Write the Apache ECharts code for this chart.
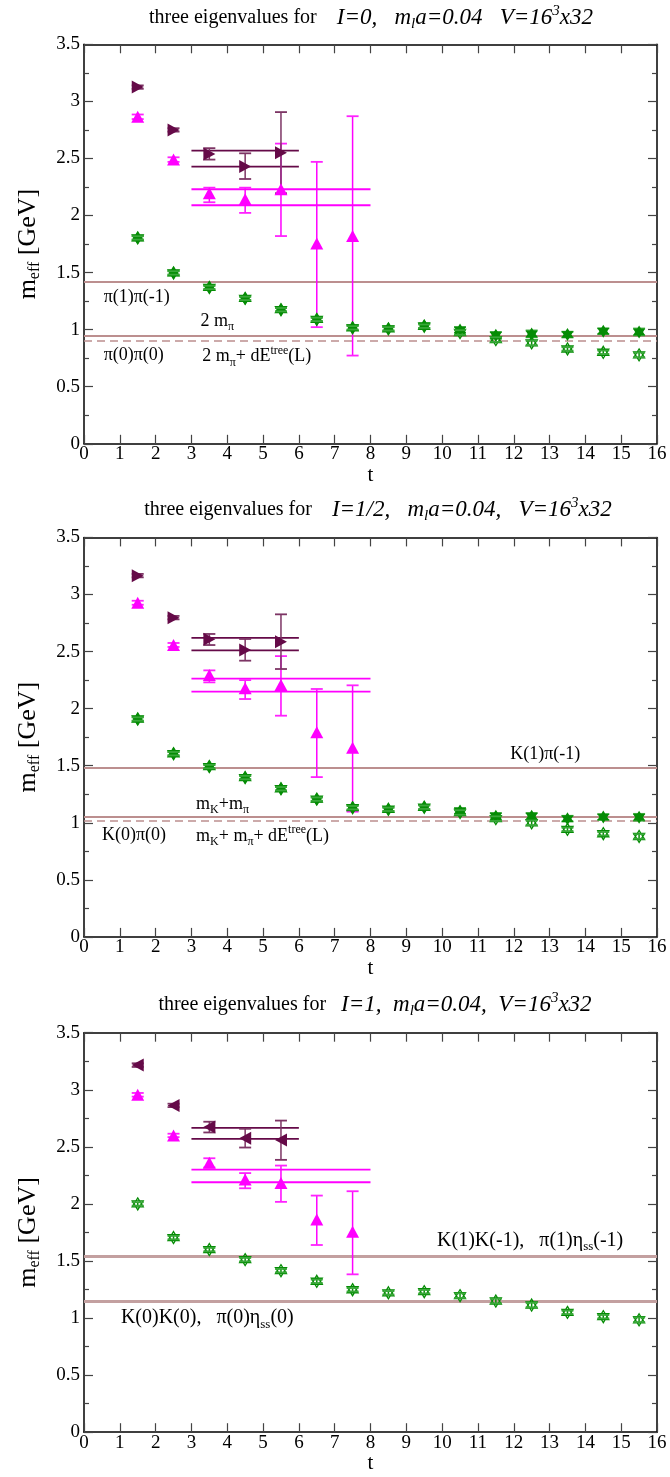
<!DOCTYPE html>
<html><head><meta charset="utf-8">
<script src="https://cdn.jsdelivr.net/npm/echarts@6/dist/echarts.min.js"></script>
<style>html,body{margin:0;padding:0;background:#fff}#c{width:670px;height:1477px}</style>
</head><body><div id="c"></div><script>
// ---------------- data ----------------
const T = [1.5,2.5,3.5,4.5,5.5,6.5,7.5,8.5,9.5,10.5,11.5,12.5,13.5,14.5,15.5];
const X_MIN = 0, X_MAX = 16, X_STEP = 1;
const Y_MIN = 0, Y_MAX = 3.5, Y_STEP = 0.5;
const FIT_RANGE_MAROON = [3, 6];
const FIT_RANGE_MAGENTA = [3, 8];

// Panel 1: I=0
const P1_maroon_val = [3.125, 2.75, 2.54, 2.43, 2.55];
const P1_maroon_lo  = [3.11, 2.735, 2.49, 2.32, 2.195];
const P1_maroon_hi  = [3.14, 2.765, 2.59, 2.545, 2.906];
const P1_magenta_val = [2.865, 2.49, 2.195, 2.142, 2.23, 1.754, 1.82];
const P1_magenta_lo  = [2.845, 2.47, 2.116, 2.023, 1.82, 1.022, 0.773];
const P1_magenta_hi  = [2.885, 2.51, 2.244, 2.244, 2.63, 2.47, 2.87];
const P1_green_filled     = [1.804,1.497,1.37,1.274,1.175,1.09,1.016,1.007,1.034,0.998,0.95,0.963,0.957,0.987,0.98];
const P1_green_filled_err = [0.015,0.015,0.015,0.015,0.015,0.015,0.02,0.015,0.02,0.025,0.03,0.03,0.025,0.025,0.03];
const P1_green_open       = [1.804,1.497,1.37,1.274,1.175,1.09,1.016,1.007,1.03,0.975,0.913,0.884,0.831,0.802,0.779];
const P1_green_open_err   = [0.015,0.015,0.015,0.015,0.015,0.015,0.015,0.015,0.015,0.02,0.02,0.02,0.015,0.015,0.02];
const P1_fit_maroon  = [2.568, 2.428];
const P1_fit_magenta = [2.23, 2.09];
const P1_ref_solid   = [1.415, 0.952];
const P1_ref_dashed  = [0.896];
const P1_label_text = ['{n|π(1)π(-1)}', '{n|2 m}{s|π}', '{n|π(0)π(0)}', '{n|2 m}{s|π}{n|+ dE}{p|tree}{n|(L)}'];
const P1_label_pos  = [[0.55, 1.28], [3.25, 1.075], [0.55, 0.775], [3.3, 0.765]];

// Panel 2: I=1/2
const P2_maroon_val = [3.165, 2.797, 2.607, 2.513, 2.586];
const P2_maroon_lo  = [3.15, 2.782, 2.557, 2.42, 2.347];
const P2_maroon_hi  = [3.18, 2.812, 2.654, 2.61, 2.826];
const P2_magenta_val = [2.928, 2.557, 2.294, 2.178, 2.207, 1.792, 1.658];
const P2_magenta_lo  = [2.91, 2.54, 2.23, 2.084, 1.938, 1.40, 1.097];
const P2_magenta_hi  = [2.945, 2.575, 2.335, 2.25, 2.46, 2.172, 2.204];
const P2_green_filled     = [1.909,1.605,1.492,1.396,1.298,1.207,1.132,1.118,1.136,1.104,1.056,1.056,1.036,1.05,1.048];
const P2_green_filled_err = [0.015,0.015,0.015,0.015,0.015,0.015,0.02,0.015,0.02,0.025,0.03,0.03,0.025,0.025,0.03];
const P2_green_open       = [1.909,1.605,1.492,1.396,1.298,1.207,1.132,1.118,1.136,1.09,1.036,1.0,0.942,0.904,0.88];
const P2_green_open_err   = [0.015,0.015,0.015,0.015,0.015,0.015,0.015,0.015,0.015,0.02,0.02,0.02,0.015,0.015,0.02];
const P2_fit_maroon  = [2.619, 2.51];
const P2_fit_magenta = [2.262, 2.148];
const P2_ref_solid   = [1.482, 1.05];
const P2_ref_dashed  = [1.017];
const P2_label_text = ['{n|K(1)π(-1)}', '{n|m}{s|K}{n|+m}{s|π}', '{n|K(0)π(0)}', '{n|m}{s|K}{n|+ m}{s|π}{n|+ dE}{p|tree}{n|(L)}'];
const P2_label_pos  = [[11.9, 1.6], [3.13, 1.165], [0.5, 0.89], [3.13, 0.885]];

// Panel 3: I=1
const P3_maroon_val = [3.216, 2.863, 2.673, 2.576, 2.561];
const P3_maroon_lo  = [3.2, 2.848, 2.626, 2.494, 2.386];
const P3_maroon_hi  = [3.232, 2.878, 2.72, 2.658, 2.73];
const P3_magenta_val = [2.956, 2.6, 2.36, 2.213, 2.184, 1.863, 1.757];
const P3_magenta_lo  = [2.94, 2.585, 2.319, 2.137, 2.018, 1.64, 1.383];
const P3_magenta_hi  = [2.972, 2.615, 2.4, 2.27, 2.336, 2.073, 2.111];
const P3_green_open     = [2.0,1.705,1.6,1.512,1.415,1.322,1.248,1.221,1.231,1.196,1.149,1.114,1.05,1.012,0.985];
const P3_green_open_err = [0.015,0.015,0.015,0.015,0.015,0.015,0.015,0.015,0.015,0.02,0.02,0.02,0.015,0.015,0.02];
const P3_fit_maroon  = [2.667, 2.57];
const P3_fit_magenta = [2.3, 2.19];
const P3_ref_solid   = [1.544, 1.15];
const P3_label_text = ['{b|K(1)K(-1),   π(1)η}{bs|ss}{b|(-1)}', '{b|K(0)K(0),   π(0)η}{bs|ss}{b|(0)}'];
const P3_label_pos  = [[9.86, 1.68], [1.03, 1.0]];

const TITLES = [
  '{t|three eigenvalues for    }{i|I=0,   m}{s|l}{i|a=0.04   V=16}{p|3}{i|x32}',
  '{t|three eigenvalues for    }{i|I=1/2,   m}{s|l}{i|a=0.04,   V=16}{p|3}{i|x32}',
  '{t|three eigenvalues for   }{i|I=1,  m}{s|l}{i|a=0.04,  V=16}{p|3}{i|x32}'
];

// ---------------- styles / layout ----------------
const FONT = '"Liberation Serif","DejaVu Serif",serif';
const MAROON = '#650a48', MAROON_BAR = '#7d3565';
const MAGENTA = '#ff00ff', MAGENTA_BAR = '#ff22ff';
const GREEN = '#058c05', GREEN_CAP = '#3aa83a';
const REF = '#bc8f8f', REF3 = '#c3a0a0';
const GRID_LEFT = 84, GRID_W = 573, GRID_H = 399.5;
const GRID_TOPS = [44.3, 537.4, 1032.7];
const TITLE_CENTERS = [18, 510, 1005];
const TITLE_CENTER_X = [366, 373, 370];
const HEX = 'path://M0,-10L8.66,5L-8.66,5Z M0,10L-8.66,-5L8.66,-5Z';

const labelRich = {
  n: {fontFamily: FONT, fontSize: 18, lineHeight: 24, verticalAlign: 'middle', color: '#000'},
  s: {fontFamily: FONT, fontSize: 12, lineHeight: 13, verticalAlign: 'bottom', color: '#000'},
  p: {fontFamily: FONT, fontSize: 12, lineHeight: 13, verticalAlign: 'top', color: '#000'},
  b: {fontFamily: FONT, fontSize: 20, lineHeight: 26, verticalAlign: 'middle', color: '#000'},
  bs: {fontFamily: FONT, fontSize: 13, lineHeight: 14, verticalAlign: 'bottom', color: '#000'}
};
const titleRich = {
  t: {fontFamily: FONT, fontSize: 20, lineHeight: 28, verticalAlign: 'middle', color: '#000'},
  i: {fontFamily: FONT, fontSize: 23, fontStyle: 'italic', lineHeight: 28, verticalAlign: 'middle', color: '#000'},
  s: {fontFamily: FONT, fontSize: 15, fontStyle: 'italic', lineHeight: 14, verticalAlign: 'bottom', color: '#000'},
  p: {fontFamily: FONT, fontSize: 15, fontStyle: 'italic', lineHeight: 14, verticalAlign: 'top', color: '#000'}
};

function pts(xs, ys) { return ys.map((y, k) => [xs[k], y]); }
function bars(xs, lo, hi) { return lo.map((l, k) => [xs[k], l, hi[k]]); }
function symBars(xs, v, e) { return v.map((y, k) => [xs[k], y - e[k], y + e[k]]); }

function errSeries(idx, data, color, capColor, z) {
  return {
    type: 'custom', xAxisIndex: idx, yAxisIndex: idx, z: z, silent: true, clip: false,
    data: data, encode: {x: 0, y: [1, 2]},
    renderItem: function (params, api) {
      const x = api.value(0);
      const a = api.coord([x, api.value(1)]);
      const b = api.coord([x, api.value(2)]);
      const w = 6;
      return {type: 'group', children: [
        {type: 'line', shape: {x1: a[0], y1: a[1], x2: b[0], y2: b[1]}, style: {stroke: color, lineWidth: 1.5}},
        {type: 'line', shape: {x1: a[0] - w, y1: a[1], x2: a[0] + w, y2: a[1]}, style: {stroke: capColor, lineWidth: 1.8}},
        {type: 'line', shape: {x1: b[0] - w, y1: b[1], x2: b[0] + w, y2: b[1]}, style: {stroke: capColor, lineWidth: 1.8}}
      ]};
    }
  };
}
function fitSeries(idx, range, v, color, marks) {
  const s = {
    type: 'line', xAxisIndex: idx, yAxisIndex: idx, z: 4, silent: true,
    symbol: 'none', data: [[range[0], v], [range[1], v]],
    lineStyle: {color: color, width: 1.8}
  };
  if (marks) s.markLine = marks;
  return s;
}
function refMarks(solid, dashed, width, color) {
  const data = solid.map(v => ({yAxis: v, lineStyle: {type: 'solid'}}))
    .concat((dashed || []).map(v => ({yAxis: v, lineStyle: {type: [8, 5], width: 1.5}})));
  return {silent: true, symbol: 'none', label: {show: false}, animation: false,
    lineStyle: {color: color, width: width}, data: data};
}
function labelSeries(idx, pos, text) {
  return {
    type: 'custom', xAxisIndex: idx, yAxisIndex: idx, z: 6, silent: true, clip: false,
    data: pos.map((p, k) => [p[0], p[1], k]),
    renderItem: function (params, api) {
      const c = api.coord([api.value(0), api.value(1)]);
      return {type: 'text', x: c[0], y: c[1], style: {
        text: text[api.value(2)], rich: labelRich, fontFamily: FONT, fontSize: 18,
        align: 'left', verticalAlign: 'middle', fill: '#000'}};
    }
  };
}

function panelSeries(idx, d) {
  const s = [];
  s.push(fitSeries(idx, FIT_RANGE_MAROON, d.fitMaroon[0], MAROON, refMarks(d.refSolid, d.refDashed, d.refWidth, d.refColor)));
  s.push(fitSeries(idx, FIT_RANGE_MAROON, d.fitMaroon[1], MAROON));
  s.push(fitSeries(idx, FIT_RANGE_MAGENTA, d.fitMagenta[0], MAGENTA));
  s.push(fitSeries(idx, FIT_RANGE_MAGENTA, d.fitMagenta[1], MAGENTA));
  if (d.greenFilled) {
    s.push(errSeries(idx, symBars(T, d.greenFilled, d.greenFilledErr), GREEN, GREEN_CAP, 5));
    s.push({type: 'scatter', xAxisIndex: idx, yAxisIndex: idx, z: 6, silent: true,
      symbol: HEX, symbolSize: [12, 13], data: pts(T, d.greenFilled),
      itemStyle: {color: GREEN, opacity: 1}});
  }
  s.push({type: 'scatter', xAxisIndex: idx, yAxisIndex: idx, z: 6, silent: true,
    symbol: HEX, symbolSize: [11, 12], data: pts(T, d.greenOpen),
    itemStyle: {color: 'rgba(0,0,0,0)', borderColor: GREEN, borderWidth: 1.3, opacity: 1}});
  s.push(errSeries(idx, symBars(T, d.greenOpen, d.greenOpenErr), GREEN, GREEN_CAP, 7));
  s.push(errSeries(idx, bars(T, d.magentaLo, d.magentaHi), MAGENTA, MAGENTA_BAR, 5));
  s.push({type: 'scatter', xAxisIndex: idx, yAxisIndex: idx, z: 6, silent: true,
    symbol: 'triangle', symbolSize: [13, 12], data: pts(T, d.magenta),
    itemStyle: {color: MAGENTA, opacity: 1}});
  s.push(errSeries(idx, bars(T, d.maroonLo, d.maroonHi), MAROON_BAR, MAROON_BAR, 5));
  s.push({type: 'scatter', xAxisIndex: idx, yAxisIndex: idx, z: 6, silent: true,
    symbol: 'triangle', symbolSize: [13, 12], symbolRotate: d.maroonRotate, data: pts(T, d.maroon),
    itemStyle: {color: MAROON, opacity: 1}});
  s.push(labelSeries(idx, d.labelPos, d.labelText));
  return s;
}

const panels = [
  {maroon: P1_maroon_val, maroonLo: P1_maroon_lo, maroonHi: P1_maroon_hi, maroonRotate: -90,
   magenta: P1_magenta_val, magentaLo: P1_magenta_lo, magentaHi: P1_magenta_hi,
   greenFilled: P1_green_filled, greenFilledErr: P1_green_filled_err,
   greenOpen: P1_green_open, greenOpenErr: P1_green_open_err,
   fitMaroon: P1_fit_maroon, fitMagenta: P1_fit_magenta,
   refSolid: P1_ref_solid, refDashed: P1_ref_dashed, refWidth: 2, refColor: REF,
   labelPos: P1_label_pos, labelText: P1_label_text},
  {maroon: P2_maroon_val, maroonLo: P2_maroon_lo, maroonHi: P2_maroon_hi, maroonRotate: -90,
   magenta: P2_magenta_val, magentaLo: P2_magenta_lo, magentaHi: P2_magenta_hi,
   greenFilled: P2_green_filled, greenFilledErr: P2_green_filled_err,
   greenOpen: P2_green_open, greenOpenErr: P2_green_open_err,
   fitMaroon: P2_fit_maroon, fitMagenta: P2_fit_magenta,
   refSolid: P2_ref_solid, refDashed: P2_ref_dashed, refWidth: 2, refColor: REF,
   labelPos: P2_label_pos, labelText: P2_label_text},
  {maroon: P3_maroon_val, maroonLo: P3_maroon_lo, maroonHi: P3_maroon_hi, maroonRotate: 90,
   magenta: P3_magenta_val, magentaLo: P3_magenta_lo, magentaHi: P3_magenta_hi,
   greenFilled: null, greenOpen: P3_green_open, greenOpenErr: P3_green_open_err,
   fitMaroon: P3_fit_maroon, fitMagenta: P3_fit_magenta,
   refSolid: P3_ref_solid, refDashed: [], refWidth: 3, refColor: REF3,
   labelPos: P3_label_pos, labelText: P3_label_text}
];

const axisLine = {show: true, onZero: false, lineStyle: {color: '#000', width: 1.5}};
const tickStyle = {color: '#444', width: 1.2};
const grids = [], xAxes = [], yAxes = [], titles = [];
let series = [];
for (let i = 0; i < 3; i++) {
  grids.push({left: GRID_LEFT, top: GRID_TOPS[i], width: GRID_W, height: GRID_H});
  titles.push({text: TITLES[i], left: TITLE_CENTER_X[i], top: TITLE_CENTERS[i] - 19, textAlign: 'center',
    textStyle: {rich: titleRich, fontFamily: FONT, fontSize: 20, color: '#000', fontWeight: 'normal'}});
  series = series.concat(panelSeries(i, panels[i]));
}
for (let i = 0; i < 3; i++) {
  xAxes.push({type: 'value', gridIndex: i, min: X_MIN, max: X_MAX, interval: X_STEP, position: 'bottom',
    name: 't', nameLocation: 'middle', nameGap: 8,
    nameTextStyle: {fontFamily: FONT, fontSize: 21, color: '#000'},
    axisLine: axisLine, axisTick: {show: true, inside: true, length: 9, lineStyle: tickStyle},
    axisLabel: {fontFamily: FONT, fontSize: 19, color: '#000', margin: 1},
    splitLine: {show: false}});
  yAxes.push({type: 'value', gridIndex: i, min: Y_MIN, max: Y_MAX, interval: Y_STEP, position: 'left',
    name: '{n|m}{s|eff}{n| [GeV]}', nameLocation: 'middle', nameGap: 41, nameRotate: 90,
    nameTextStyle: {fontFamily: FONT, fontSize: 26, color: '#000', rich: {
      n: {fontFamily: FONT, fontSize: 26, lineHeight: 30, verticalAlign: 'middle', color: '#000'},
      s: {fontFamily: FONT, fontSize: 16, lineHeight: 16, verticalAlign: 'bottom', color: '#000'}}},
    axisLine: axisLine, axisTick: {show: true, inside: true, length: 9, lineStyle: tickStyle},
    minorTick: {show: true, splitNumber: 2, length: 5, lineStyle: tickStyle},
    axisLabel: {fontFamily: FONT, fontSize: 19, color: '#000', margin: 4},
    splitLine: {show: false}, minorSplitLine: {show: false}});
}
for (let i = 0; i < 3; i++) {
  xAxes.push({type: 'value', gridIndex: i, min: X_MIN, max: X_MAX, interval: X_STEP, position: 'top',
    axisLine: axisLine, axisTick: {show: true, inside: true, length: 9, lineStyle: tickStyle},
    axisLabel: {show: false}, splitLine: {show: false}});
  yAxes.push({type: 'value', gridIndex: i, min: Y_MIN, max: Y_MAX, interval: Y_STEP, position: 'right',
    axisLine: axisLine, axisTick: {show: true, inside: true, length: 9, lineStyle: tickStyle},
    minorTick: {show: true, splitNumber: 2, length: 5, lineStyle: tickStyle},
    axisLabel: {show: false}, splitLine: {show: false}, minorSplitLine: {show: false}});
}

const chart = echarts.init(document.getElementById('c'), null, {renderer: 'canvas'});
chart.setOption({
  animation: false, backgroundColor: '#fff',
  title: titles, grid: grids, xAxis: xAxes, yAxis: yAxes, series: series
});
</script></body></html>
